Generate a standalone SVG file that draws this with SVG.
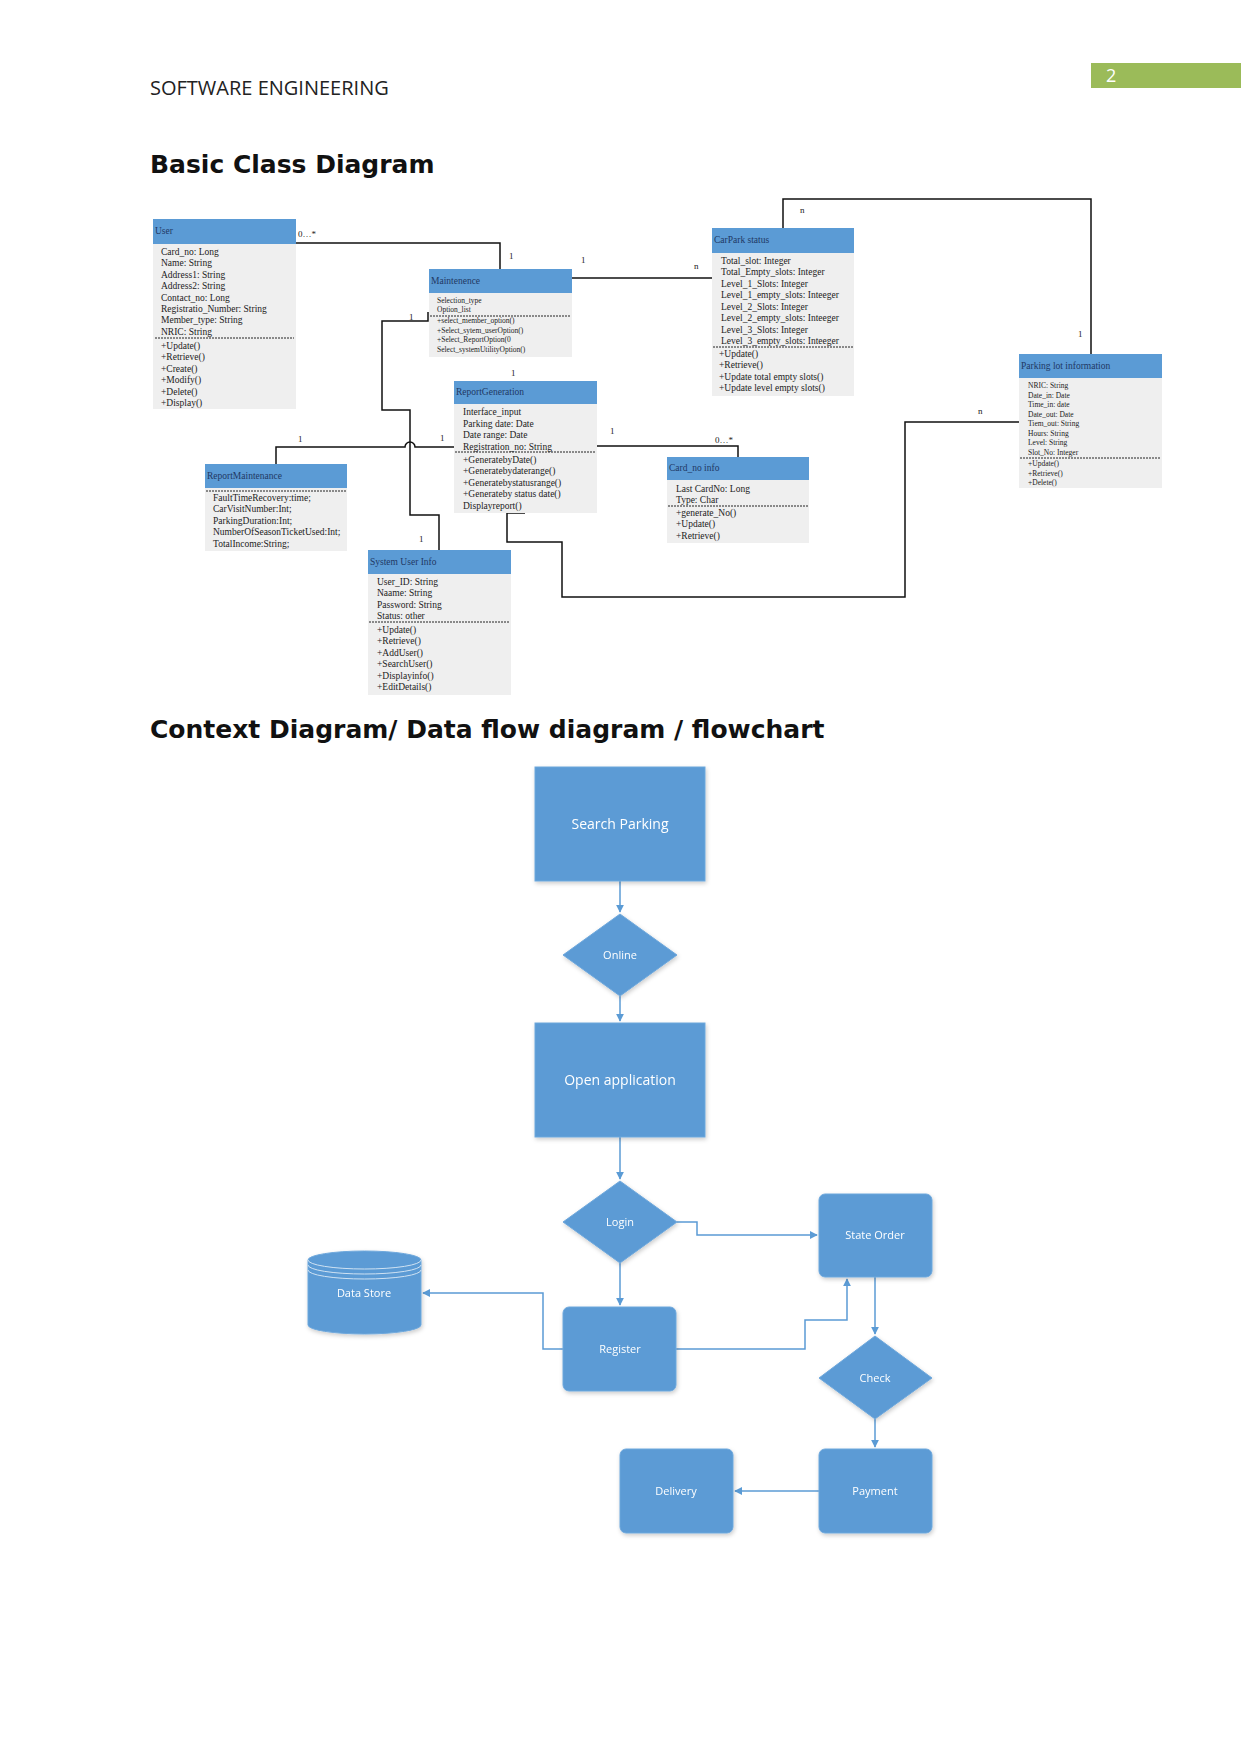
<svg xmlns="http://www.w3.org/2000/svg" width="1241" height="1754" viewBox="0 0 1241 1754">
<defs>
<style>
.hd{fill:#5b9bd5}
.bd{fill:#efefef}
.dash{stroke:#222;stroke-width:1;stroke-dasharray:2,1}
.ht{font-family:"Liberation Serif",serif;font-size:9.5px;fill:#1f3864}
.t{font-family:"Liberation Serif",serif;font-size:9.5px;fill:#222}
.ts{font-family:"Liberation Serif",serif;font-size:7.5px;fill:#222}
.lb{font-family:"Liberation Serif",serif;font-size:9px;fill:#222}
.cl{fill:none;stroke:#111;stroke-width:1.5}
.fs{fill:#5b9bd5;stroke:#6fa8dc;stroke-width:1}
.fl{fill:none;stroke:#5b9bd5;stroke-width:1.5}
.ft{font-family:"Open Sans","Noto Sans",sans-serif;font-size:11px;fill:#fff;text-anchor:middle}
.fb{font-family:"Open Sans","Noto Sans",sans-serif;font-size:14px;fill:#fff;text-anchor:middle}
</style>
<marker id="ar" viewBox="0 0 10 10" refX="9" refY="5" markerWidth="8" markerHeight="8" orient="auto" markerUnits="userSpaceOnUse">
<path d="M0,0 L10,5 L0,10 z" fill="#5b9bd5"/>
</marker>
<filter id="sh" x="-10%" y="-10%" width="130%" height="130%">
<feDropShadow dx="1" dy="2" stdDeviation="2" flood-color="#000" flood-opacity="0.2"/>
</filter>
</defs>
<rect width="1241" height="1754" fill="#fff"/>

<!-- page header -->
<text x="150" y="95" font-family="'Open Sans','Noto Sans',sans-serif" font-size="20" fill="#222">SOFTWARE ENGINEERING</text>
<rect x="1091" y="63" width="150" height="25" fill="#9bbb59"/>
<text x="1106" y="82" font-family="'Open Sans','Noto Sans',sans-serif" font-size="18" fill="#fff">2</text>

<text x="150" y="173" font-family="'DejaVu Sans',sans-serif" font-weight="bold" font-size="25" fill="#111">Basic Class Diagram</text>
<text x="150" y="738" font-family="'DejaVu Sans',sans-serif" font-weight="bold" font-size="25" fill="#111">Context Diagram/ Data flow diagram / flowchart</text>

<!-- class diagram connectors -->
<g id="class-connectors">
<path class="cl" d="M296,243 H500 V269"/>
<path class="cl" d="M572,278 H712"/>
<path class="cl" d="M783,228 V199 H1091 V354"/>
<path class="cl" d="M1019,422 H905 V597 H562 V542 H507 V513 H525"/>
<path class="cl" d="M597,446 H738 V457"/>
<path class="cl" d="M276,464 V447 H405 A5,5 0 0 1 415,447 H454"/>
<path class="cl" d="M428,312 V321 H382 V410 H410 V515 H439 V550"/>
<text class="lb" x="298" y="237">0…*</text>
<text class="lb" x="509" y="259">1</text>
<text class="lb" x="581" y="263">1</text>
<text class="lb" x="694" y="269">n</text>
<text class="lb" x="800" y="213">n</text>
<text class="lb" x="1078" y="337">1</text>
<text class="lb" x="978" y="414">n</text>
<text class="lb" x="409" y="320">1</text>
<text class="lb" x="511" y="376">1</text>
<text class="lb" x="298" y="442">1</text>
<text class="lb" x="440" y="441">1</text>
<text class="lb" x="610" y="434">1</text>
<text class="lb" x="715" y="443">0…*</text>
<text class="lb" x="419" y="542">1</text>
</g>

<g id="class-user">
<rect class="hd" x="153" y="219" width="143" height="25"/>
<rect class="bd" x="153" y="244" width="143" height="165"/>
<text class="ht" x="155" y="234">User</text>
<text class="t" x="161" y="255">Card_no: Long</text>
<text class="t" x="161" y="266">Name: String</text>
<text class="t" x="161" y="278">Address1: String</text>
<text class="t" x="161" y="289">Address2: String</text>
<text class="t" x="161" y="301">Contact_no: Long</text>
<text class="t" x="161" y="312">Registratio_Number: String</text>
<text class="t" x="161" y="323">Member_type: String</text>
<text class="t" x="161" y="335">NRIC: String</text>
<line class="dash" x1="155" y1="338" x2="294" y2="338"/>
<text class="t" x="161" y="349">+Update()</text>
<text class="t" x="161" y="360">+Retrieve()</text>
<text class="t" x="161" y="372">+Create()</text>
<text class="t" x="161" y="383">+Modify()</text>
<text class="t" x="161" y="395">+Delete()</text>
<text class="t" x="161" y="406">+Display()</text>
</g>

<g id="class-maintenence">
<rect class="hd" x="429" y="269" width="143" height="24"/>
<rect class="bd" x="429" y="293" width="143" height="64"/>
<text class="ht" x="431" y="284">Maintenence</text>
<text class="ts" x="437" y="303">Selection_type</text>
<text class="ts" x="437" y="312">Option_list</text>
<line class="dash" x1="430" y1="316" x2="571" y2="316"/>
<text class="ts" x="437" y="323">+select_member_option()</text>
<text class="ts" x="437" y="333">+Select_sytem_userOption()</text>
<text class="ts" x="437" y="342">+Select_ReportOption(0</text>
<text class="ts" x="437" y="352">Select_systemUtilityOption()</text>
</g>

<g id="class-carpark">
<rect class="hd" x="712" y="228" width="142" height="25"/>
<rect class="bd" x="712" y="253" width="142" height="143"/>
<text class="ht" x="714" y="243">CarPark status</text>
<text class="t" x="721" y="264">Total_slot: Integer</text>
<text class="t" x="721" y="275">Total_Empty_slots: Integer</text>
<text class="t" x="721" y="287">Level_1_Slots: Integer</text>
<text class="t" x="721" y="298">Level_1_empty_slots: Inteeger</text>
<text class="t" x="721" y="310">Level_2_Slots: Integer</text>
<text class="t" x="721" y="321">Level_2_empty_slots: Inteeger</text>
<text class="t" x="721" y="333">Level_3_Slots: Integer</text>
<text class="t" x="721" y="344">Level_3_empty_slots: Inteeger</text>
<line class="dash" x1="713" y1="347" x2="853" y2="347"/>
<text class="t" x="719" y="357">+Update()</text>
<text class="t" x="719" y="368">+Retrieve()</text>
<text class="t" x="719" y="380">+Update total empty slots()</text>
<text class="t" x="719" y="391">+Update level empty slots()</text>
</g>

<g id="class-parkinglot">
<rect class="hd" x="1019" y="354" width="143" height="24"/>
<rect class="bd" x="1019" y="378" width="143" height="110"/>
<text class="ht" x="1021" y="369">Parking lot information</text>
<text class="ts" x="1028" y="388">NRIC: String</text>
<text class="ts" x="1028" y="398">Date_in: Date</text>
<text class="ts" x="1028" y="407">Time_in: date</text>
<text class="ts" x="1028" y="417">Date_out: Date</text>
<text class="ts" x="1028" y="426">Tiem_out: String</text>
<text class="ts" x="1028" y="436">Hours: String</text>
<text class="ts" x="1028" y="445">Level: String</text>
<text class="ts" x="1028" y="455">Slot_No: Integer</text>
<line class="dash" x1="1020" y1="458" x2="1161" y2="458"/>
<text class="ts" x="1028" y="466">+Update()</text>
<text class="ts" x="1028" y="476">+Retrieve()</text>
<text class="ts" x="1028" y="485">+Delete()</text>
</g>

<g id="class-reportgeneration">
<rect class="hd" x="454" y="381" width="143" height="23"/>
<rect class="bd" x="454" y="404" width="143" height="109"/>
<text class="ht" x="456" y="395">ReportGeneration</text>
<text class="t" x="463" y="415">Interface_input</text>
<text class="t" x="463" y="427">Parking date: Date</text>
<text class="t" x="463" y="438">Date range: Date</text>
<text class="t" x="463" y="450">Registration_no: String</text>
<line class="dash" x1="455" y1="452" x2="596" y2="452"/>
<text class="t" x="463" y="463">+GeneratebyDate()</text>
<text class="t" x="463" y="474">+Generatebydaterange()</text>
<text class="t" x="463" y="486">+Generatebystatusrange()</text>
<text class="t" x="463" y="497">+Generateby status date()</text>
<text class="t" x="463" y="509">Displayreport()</text>
</g>

<g id="class-cardno">
<rect class="hd" x="667" y="457" width="142" height="23"/>
<rect class="bd" x="667" y="480" width="142" height="63"/>
<text class="ht" x="669" y="471">Card_no info</text>
<text class="t" x="676" y="492">Last CardNo: Long</text>
<text class="t" x="676" y="503">Type: Char</text>
<line class="dash" x1="668" y1="506" x2="808" y2="506"/>
<text class="t" x="676" y="516">+generate_No()</text>
<text class="t" x="676" y="527">+Update()</text>
<text class="t" x="676" y="539">+Retrieve()</text>
</g>

<g id="class-reportmaintenance">
<rect class="hd" x="205" y="464" width="142" height="24"/>
<rect class="bd" x="205" y="488" width="142" height="63"/>
<text class="ht" x="207" y="479">ReportMaintenance</text>
<line class="dash" x1="206" y1="491" x2="346" y2="491"/>
<text class="t" x="213" y="501">FaultTimeRecovery:time;</text>
<text class="t" x="213" y="512">CarVisitNumber:Int;</text>
<text class="t" x="213" y="524">ParkingDuration:Int;</text>
<text class="t" x="213" y="535">NumberOfSeasonTicketUsed:Int;</text>
<text class="t" x="213" y="547">TotalIncome:String;</text>
</g>

<g id="class-systemuser">
<rect class="hd" x="368" y="550" width="143" height="24"/>
<rect class="bd" x="368" y="574" width="143" height="121"/>
<text class="ht" x="370" y="565">System User Info</text>
<text class="t" x="377" y="585">User_ID: String</text>
<text class="t" x="377" y="596">Naame: String</text>
<text class="t" x="377" y="608">Password: String</text>
<text class="t" x="377" y="619">Status: other</text>
<line class="dash" x1="369" y1="622" x2="510" y2="622"/>
<text class="t" x="377" y="633">+Update()</text>
<text class="t" x="377" y="644">+Retrieve()</text>
<text class="t" x="377" y="656">+AddUser()</text>
<text class="t" x="377" y="667">+SearchUser()</text>
<text class="t" x="377" y="679">+Displayinfo()</text>
<text class="t" x="377" y="690">+EditDetails()</text>
</g>

<!-- flowchart connectors -->
<g id="flow-connectors">
<path class="fl" d="M620,881 V912" marker-end="url(#ar)"/>
<path class="fl" d="M620,996 V1021" marker-end="url(#ar)"/>
<path class="fl" d="M620,1137 V1179" marker-end="url(#ar)"/>
<path class="fl" d="M677,1222 H697 V1235 H817" marker-end="url(#ar)"/>
<path class="fl" d="M620,1263 V1305" marker-end="url(#ar)"/>
<path class="fl" d="M563,1349 H543 V1293 H423" marker-end="url(#ar)"/>
<path class="fl" d="M676,1349 H805 V1320 H847 V1279" marker-end="url(#ar)"/>
<path class="fl" d="M875,1277 V1334" marker-end="url(#ar)"/>
<path class="fl" d="M875,1419 V1447" marker-end="url(#ar)"/>
<path class="fl" d="M819,1491 H735" marker-end="url(#ar)"/>
</g>

<g id="flow-search" filter="url(#sh)">
<rect class="fs" x="535" y="767" width="170" height="114"/>
<text class="fb" x="620" y="829">Search Parking</text>
</g>
<g id="flow-online" filter="url(#sh)">
<polygon class="fs" points="620,914 677,955 620,996 563,955"/>
<text class="ft" x="620" y="959">Online</text>
</g>
<g id="flow-open" filter="url(#sh)">
<rect class="fs" x="535" y="1023" width="170" height="114"/>
<text class="fb" x="620" y="1085">Open application</text>
</g>
<g id="flow-login" filter="url(#sh)">
<polygon class="fs" points="620,1181 677,1222 620,1263 563,1222"/>
<text class="ft" x="620" y="1226">Login</text>
</g>
<g id="flow-stateorder" filter="url(#sh)">
<rect class="fs" x="819" y="1194" width="113" height="83" rx="6"/>
<text class="ft" x="875" y="1239">State Order</text>
</g>
<g id="flow-datastore" filter="url(#sh)">
<path class="fs" d="M308,1260 A56.5,9 0 0 1 421,1260 V1325 A56.5,9 0 0 1 308,1325 Z"/>
<path d="M308,1260 A56.5,9 0 0 0 421,1260 M308,1265 A56.5,9 0 0 0 421,1265 M308,1270 A56.5,9 0 0 0 421,1270" fill="none" stroke="#cfe2f3" stroke-width="1"/>
<text class="ft" x="364" y="1297">Data Store</text>
</g>
<g id="flow-register" filter="url(#sh)">
<rect class="fs" x="563" y="1307" width="113" height="84" rx="6"/>
<text class="ft" x="620" y="1353">Register</text>
</g>
<g id="flow-check" filter="url(#sh)">
<polygon class="fs" points="875,1336 932,1378 875,1419 819,1378"/>
<text class="ft" x="875" y="1382">Check</text>
</g>
<g id="flow-delivery" filter="url(#sh)">
<rect class="fs" x="620" y="1449" width="113" height="84" rx="6"/>
<text class="ft" x="676" y="1495">Delivery</text>
</g>
<g id="flow-payment" filter="url(#sh)">
<rect class="fs" x="819" y="1449" width="113" height="84" rx="6"/>
<text class="ft" x="875" y="1495">Payment</text>
</g>
</svg>
